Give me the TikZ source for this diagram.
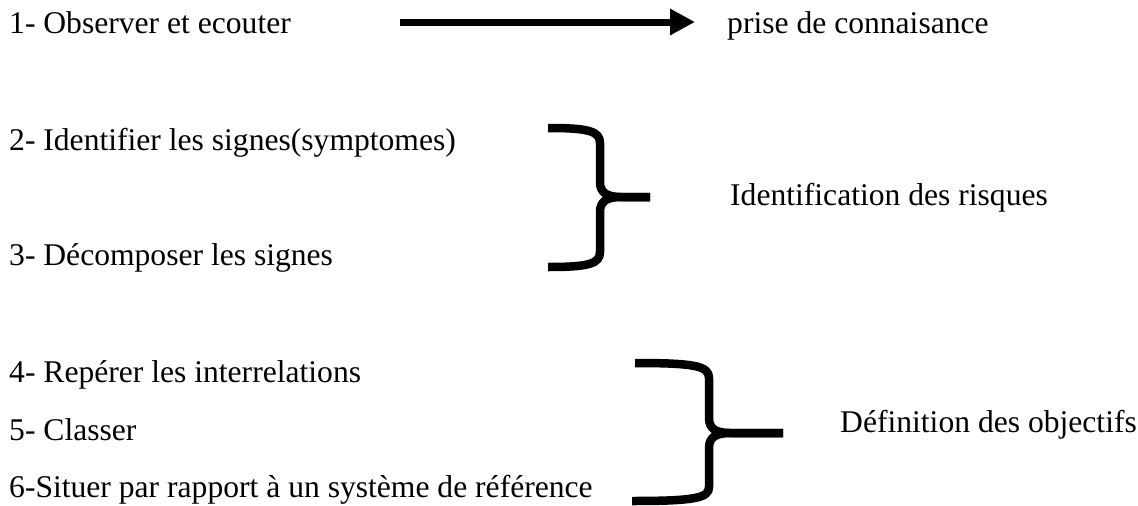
\documentclass[tikz,border=0pt]{standalone}
\usepackage{fontspec}
\setmainfont{Liberation Serif}
\usetikzlibrary{arrows.meta}
\begin{document}
\begin{tikzpicture}[x=1pt,y=-1pt,
  lbl/.style={anchor=base west, inner sep=0pt, font=\fontsize{31.6}{38}\selectfont},
  bracepath/.style={line width=8.5pt, line cap=butt, line join=round},
  bigarrow/.style={line width=7pt, -{Triangle[length=25pt,width=25pt]}}]
\useasboundingbox (0,0) rectangle (1138,506);

% steps of the approach
\node[lbl] (s1) at (9,33)  {1- Observer et ecouter};
\node[lbl] (s2) at (9,150) {2- Identifier les signes(symptomes)};
\node[lbl] (s3) at (9,265) {3- Décomposer les signes};
\node[lbl] (s4) at (9,382) {4- Repérer les interrelations};
\node[lbl] (s5) at (9,440) {5- Classer};
\node[lbl] (s6) at (9,497) {6-Situer par rapport à un système de référence};

% outcomes
\node[lbl] (o1) at (727,33)  {prise de connaisance};
\node[lbl] (o2) at (730,205) {Identification des risques};
\node[lbl] (o3) at (840,432) {Définition des objectifs};

% arrow from step 1 to its outcome
\coordinate (a1) at (400,22);
\coordinate (a2) at (695,22);
\draw[bigarrow] (a1) -- (a2);

% brace grouping steps 2 and 3
\coordinate (b1top) at (548,128);
\coordinate (b1bot) at (548,267);
\coordinate (b1tip) at (650,197);
\draw[bracepath] (b1top) .. controls (588,128) and (600,131) .. (600,143)
  -- (600,182) .. controls (600,192) and (606,197) .. (621,197) -- (b1tip);
\draw[bracepath] (b1bot) .. controls (588,267) and (600,264) .. (600,252)
  -- (600,212) .. controls (600,202) and (606,197) .. (621,197) -- (b1tip);

% brace grouping steps 4 to 6
\coordinate (b2top) at (635,363);
\coordinate (b2bot) at (632,501);
\coordinate (b2tip) at (783,433);
\draw[bracepath] (b2top) .. controls (695,363) and (709,366) .. (709,378)
  -- (709,418) .. controls (709,428) and (715,433) .. (730,433) -- (b2tip);
\draw[bracepath] (b2bot) .. controls (695,501) and (709,498) .. (709,487)
  -- (709,448) .. controls (709,438) and (715,433) .. (730,433) -- (b2tip);
\end{tikzpicture}
\end{document}
